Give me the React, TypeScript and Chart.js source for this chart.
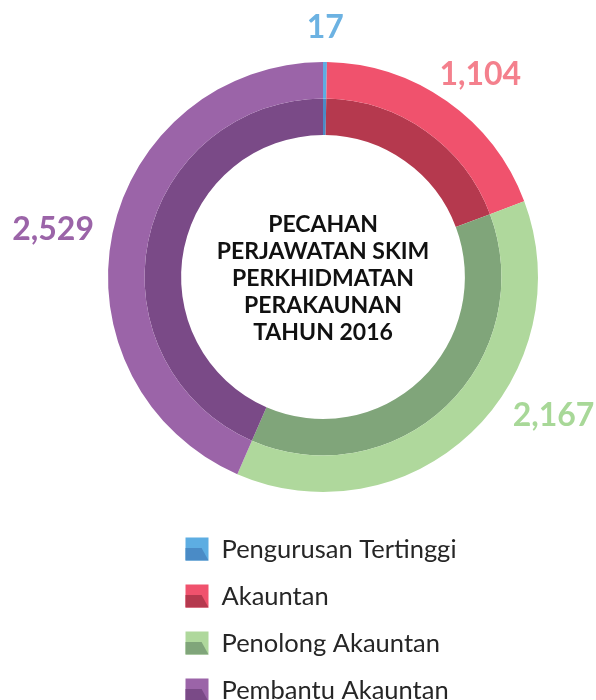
import React, { useEffect, useRef } from "react";
import { Chart, registerables } from "chart.js";
Chart.register(...registerables);

const categories = ["Pengurusan Tertinggi", "Akauntan", "Penolong Akauntan", "Pembantu Akauntan"];
const values = [17, 1104, 2167, 2529];
const valueLabels = ["17", "1,104", "2,167", "2,529"];
const centerTitle = ["PECAHAN", "PERJAWATAN SKIM", "PERKHIDMATAN", "PERAKAUNAN", "TAHUN 2016"];

const outerColors = ["#5dade2", "#f0526d", "#afd89c", "#9b64a8"];
const innerColors = ["#4a8bc6", "#b5394e", "#80a57a", "#7a4a87"];
const labelColors = ["#6cb2e2", "#f4808d", "#a8d898", "#9b64a8"];

// label placement tweaks (degrees shift, extra radius)
const labelAngleShift = [0, 2.7, -15.4, -1.8];
const labelGap = [34, 41, 54, 59];

const FONT = "Lato, 'Open Sans', sans-serif";

const overlay = {
  id: "overlay",
  afterDraw(chart: any) {
    const ctx = chart.ctx as CanvasRenderingContext2D;
    const meta = chart.getDatasetMeta(0);
    let cx = 0, cy = 0, outerR = 0;
    ctx.save();
    meta.data.forEach((arc: any, i: number) => {
      const p = arc.getProps(["x", "y", "startAngle", "endAngle", "outerRadius"], true);
      cx = p.x; cy = p.y; outerR = p.outerRadius;
      const mid = (p.startAngle + p.endAngle) / 2 + (labelAngleShift[i] * Math.PI) / 180;
      const r = p.outerRadius + labelGap[i];
      ctx.font = `bold 32px ${FONT}`;
      ctx.fillStyle = labelColors[i];
      ctx.textAlign = "center";
      ctx.textBaseline = "middle";
      ctx.fillText(valueLabels[i], p.x + Math.cos(mid) * r, p.y + Math.sin(mid) * r);
    });

    // center title
    ctx.font = `bold 23px ${FONT}`;
    ctx.fillStyle = "#111";
    ctx.textAlign = "center";
    ctx.textBaseline = "middle";
    const lh = 27;
    const startY = cy + 2 - ((centerTitle.length - 1) * lh) / 2;
    centerTitle.forEach((t, i) => ctx.fillText(t, cx, startY + i * lh));

    // legend
    const box = 23;
    const gap = 13;
    ctx.font = `25.5px ${FONT}`;
    let maxW = 0;
    categories.forEach((c) => { maxW = Math.max(maxW, ctx.measureText(c).width); });
    const blockW = box + gap + maxW;
    const lx = cx - blockW / 2 - 2;
    const firstY = cy + outerR + 57;
    const rowH = 47;
    categories.forEach((c, i) => {
      const yc = firstY + i * rowH;
      const bx = lx, by = yc - box / 2;
      ctx.fillStyle = outerColors[i];
      ctx.fillRect(bx, by, box, box);
      ctx.fillStyle = innerColors[i];
      ctx.beginPath();
      ctx.moveTo(bx, by + box * 0.46);
      ctx.lineTo(bx + box * 0.7, by + box * 0.46);
      ctx.lineTo(bx + box, by + box);
      ctx.lineTo(bx, by + box);
      ctx.closePath();
      ctx.fill();
      ctx.fillStyle = "#262626";
      ctx.textAlign = "left";
      ctx.textBaseline = "middle";
      ctx.fillText(c, bx + box + gap, yc + 1);
    });
    ctx.restore();
  },
};

export default function App() {
  const ref = useRef<HTMLCanvasElement>(null);
  useEffect(() => {
    document.body.style.margin = "0";
    const chart = new Chart(ref.current!, {
      type: "doughnut",
      data: {
        labels: categories,
        datasets: [
          { data: values, backgroundColor: outerColors, borderWidth: 0 },
          { data: values, backgroundColor: innerColors, borderWidth: 0 },
        ],
      },
      options: {
        responsive: false,
        animation: false,
        cutout: "66%",
        layout: { padding: { left: 108, right: 58, top: 62, bottom: 208 } },
        plugins: { legend: { display: false }, tooltip: { enabled: false } },
      },
      plugins: [overlay],
    });
    return () => chart.destroy();
  }, []);
  return <canvas ref={ref} width={596} height={700} style={{ display: "block" }} />;
}
